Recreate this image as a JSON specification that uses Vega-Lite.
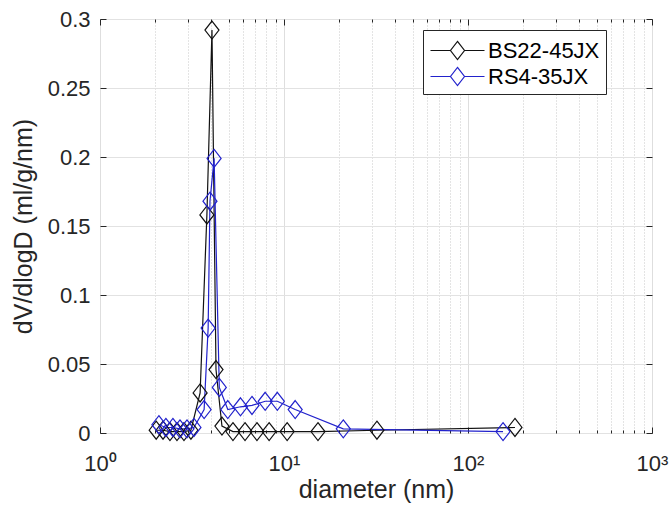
{
  "$schema": "https://vega.github.io/schema/vega-lite/v6.json",
  "width": 552,
  "height": 414,
  "autosize": {"type": "none"},
  "padding": {"left": 100, "top": 19, "right": 18, "bottom": 80},
  "background": "white",
  "config": {
    "font": "Liberation Sans",
    "view": {"stroke": "#262626", "strokeWidth": 1}
  },
  "data": {
    "values": [
      {"sample": "BS22-45JX", "d": 2.02, "v": 0.002},
      {"sample": "BS22-45JX", "d": 2.20, "v": 0.002},
      {"sample": "BS22-45JX", "d": 2.40, "v": 0.001},
      {"sample": "BS22-45JX", "d": 2.62, "v": 0.001},
      {"sample": "BS22-45JX", "d": 2.86, "v": 0.001},
      {"sample": "BS22-45JX", "d": 3.12, "v": 0.002},
      {"sample": "BS22-45JX", "d": 3.50, "v": 0.029},
      {"sample": "BS22-45JX", "d": 3.81, "v": 0.158},
      {"sample": "BS22-45JX", "d": 4.06, "v": 0.292},
      {"sample": "BS22-45JX", "d": 4.27, "v": 0.046},
      {"sample": "BS22-45JX", "d": 4.60, "v": 0.005},
      {"sample": "BS22-45JX", "d": 5.28, "v": 0.001},
      {"sample": "BS22-45JX", "d": 6.14, "v": 0.001},
      {"sample": "BS22-45JX", "d": 7.13, "v": 0.001},
      {"sample": "BS22-45JX", "d": 8.3, "v": 0.001},
      {"sample": "BS22-45JX", "d": 10.4, "v": 0.001},
      {"sample": "BS22-45JX", "d": 15.3, "v": 0.001},
      {"sample": "BS22-45JX", "d": 32, "v": 0.002},
      {"sample": "BS22-45JX", "d": 180, "v": 0.004},
      {"sample": "RS4-35JX", "d": 2.09, "v": 0.006},
      {"sample": "RS4-35JX", "d": 2.28, "v": 0.004},
      {"sample": "RS4-35JX", "d": 2.49, "v": 0.004},
      {"sample": "RS4-35JX", "d": 2.72, "v": 0.003},
      {"sample": "RS4-35JX", "d": 2.97, "v": 0.003},
      {"sample": "RS4-35JX", "d": 3.24, "v": 0.004},
      {"sample": "RS4-35JX", "d": 3.68, "v": 0.017},
      {"sample": "RS4-35JX", "d": 3.87, "v": 0.076},
      {"sample": "RS4-35JX", "d": 3.96, "v": 0.168},
      {"sample": "RS4-35JX", "d": 4.17, "v": 0.199},
      {"sample": "RS4-35JX", "d": 4.45, "v": 0.033},
      {"sample": "RS4-35JX", "d": 4.95, "v": 0.017},
      {"sample": "RS4-35JX", "d": 5.8, "v": 0.019},
      {"sample": "RS4-35JX", "d": 6.7, "v": 0.020},
      {"sample": "RS4-35JX", "d": 7.9, "v": 0.023},
      {"sample": "RS4-35JX", "d": 9.2, "v": 0.023},
      {"sample": "RS4-35JX", "d": 11.5, "v": 0.017},
      {"sample": "RS4-35JX", "d": 21, "v": 0.003},
      {"sample": "RS4-35JX", "d": 155, "v": 0.001}
    ]
  },
  "layer": [
    {
      "mark": {"type": "line", "strokeWidth": 1.2},
      "encoding": {
        "x": {
          "field": "d",
          "type": "quantitative",
          "scale": {"type": "log", "domain": [1, 1000], "nice": false},
          "axis": {
            "orient": "bottom",
            "values": [1, 2, 3, 4, 5, 6, 7, 8, 9, 10, 20, 30, 40, 50, 60, 70, 80, 90, 100, 200, 300, 400, 500, 600, 700, 800, 900, 1000],
            "labelExpr": "datum.value == 1 ? '10⁰' : datum.value == 10 ? '10¹' : datum.value == 100 ? '10²' : datum.value == 1000 ? '10³' : ''",
            "labelFontSize": 22,
            "labelColor": "#262626",
            "labelPadding": 26,
            "labelFlush": false,
            "labelOverlap": false,
            "labelBound": false,
            "domain": false,
            "ticks": true,
            "tickColor": "#262626",
            "tickSize": {"condition": {"test": "datum.value == 1 || datum.value == 10 || datum.value == 100 || datum.value == 1000", "value": -6}, "value": -3},
            "grid": true,
            "gridColor": {"condition": {"test": "datum.value == 1 || datum.value == 10 || datum.value == 100 || datum.value == 1000", "value": "#dedede"}, "value": "#c8c8c8"},
            "gridDash": {"condition": {"test": "datum.value == 1 || datum.value == 10 || datum.value == 100 || datum.value == 1000", "value": []}, "value": [1, 2]},
            "title": "diameter (nm)",
            "titleFontSize": 25,
            "titleFontWeight": "normal",
            "titleColor": "#262626",
            "titlePadding": 0
          }
        },
        "y": {
          "field": "v",
          "type": "quantitative",
          "scale": {"domain": [0, 0.3], "nice": false},
          "axis": {
            "orient": "left",
            "values": [0, 0.05, 0.1, 0.15, 0.2, 0.25, 0.3],
            "format": "~g",
            "labelFontSize": 22,
            "labelColor": "#262626",
            "labelPadding": 16,
            "domain": false,
            "tickColor": "#262626",
            "tickSize": -6,
            "grid": true,
            "gridColor": "#e2e2e2",
            "title": "dV/dlogD (ml/g/nm)",
            "titleFontSize": 25,
            "titleFontWeight": "normal",
            "titleColor": "#262626",
            "titlePadding": 11
          }
        },
        "color": {
          "field": "sample",
          "type": "nominal",
          "scale": {"domain": ["BS22-45JX", "RS4-35JX"], "range": ["#111111", "#2222cc"]},
          "legend": {
            "title": null,
            "orient": "none",
            "legendX": 323,
            "legendY": 11,
            "symbolType": "M-2,0L-0.52,0M0.52,0L2,0M0,-0.67L0.52,0L0,0.67L-0.52,0Z",
            "symbolSize": 729,
            "symbolStrokeWidth": 1.2,
            "symbolFillColor": "transparent",
            "symbolOffset": 14,
            "labelOffset": 16,
            "labelFontSize": 22,
            "labelColor": "#000000",
            "strokeColor": "#262626",
            "fillColor": "white",
            "padding": 6,
            "rowPadding": 0
          }
        }
      }
    },
    {
      "mark": {"type": "point", "shape": "M0,-1L0.78,0L0,1L-0.78,0Z", "filled": false, "size": 324, "strokeWidth": 1.2, "opacity": 1},
      "encoding": {
        "x": {"field": "d", "type": "quantitative", "axis": null},
        "y": {"field": "v", "type": "quantitative", "axis": null},
        "color": {"field": "sample", "type": "nominal", "legend": null}
      }
    },
    {
      "mark": {"type": "point", "opacity": 0},
      "encoding": {
        "x": {
          "field": "d",
          "type": "quantitative",
          "axis": {
            "orient": "top",
            "values": [1, 2, 3, 4, 5, 6, 7, 8, 9, 10, 20, 30, 40, 50, 60, 70, 80, 90, 100, 200, 300, 400, 500, 600, 700, 800, 900, 1000],
            "labels": false,
            "domain": false,
            "grid": false,
            "tickColor": "#262626",
            "tickSize": {"condition": {"test": "datum.value == 1 || datum.value == 10 || datum.value == 100 || datum.value == 1000", "value": -6}, "value": -3},
            "title": null
          }
        },
        "y": {
          "field": "v",
          "type": "quantitative",
          "axis": {
            "orient": "right",
            "values": [0, 0.05, 0.1, 0.15, 0.2, 0.25, 0.3],
            "labels": false,
            "domain": false,
            "grid": false,
            "tickColor": "#262626",
            "tickSize": -6,
            "title": null
          }
        }
      }
    }
  ],
  "resolve": {"axis": {"x": "independent", "y": "independent"}}
}
